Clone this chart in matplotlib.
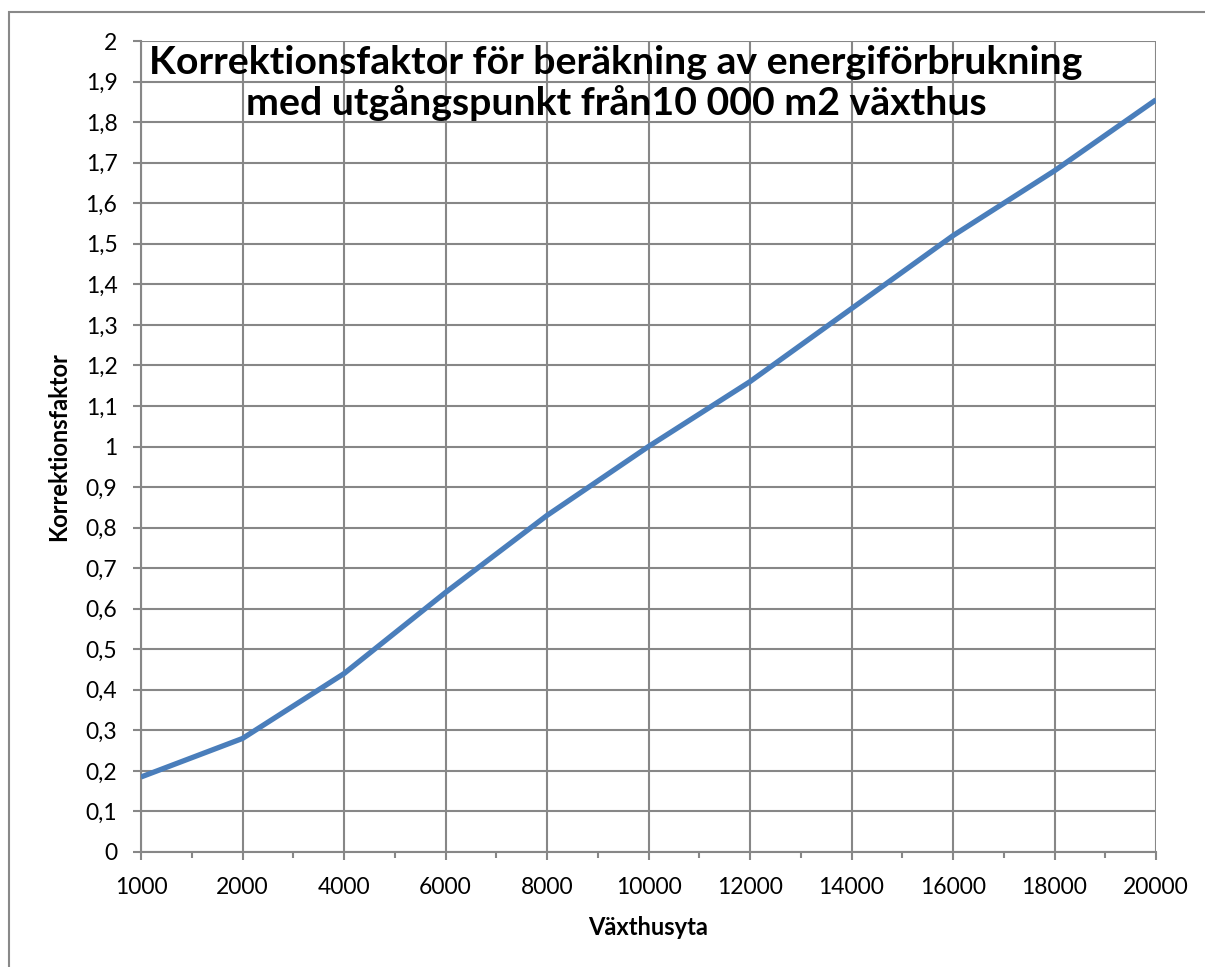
import matplotlib
matplotlib.use("Agg")
import matplotlib.pyplot as plt
from matplotlib.patches import Rectangle
from matplotlib.ticker import FixedLocator, MultipleLocator, FuncFormatter

plt.rcParams['font.family'] = ['Lato', 'DejaVu Sans']

# Greenhouse area categories and correction factor
areas = ["1000", "2000", "4000", "6000", "8000", "10000",
         "12000", "14000", "16000", "18000", "20000"]
factor = [0.185, 0.28, 0.44, 0.64, 0.83, 1.0, 1.16, 1.34, 1.52, 1.68, 1.855]

title = ("Korrektionsfaktor för beräkning av energiförbrukning\n"
         "med utgångspunkt från10 000 m2 växthus")
xlabel = "Växthusyta"
ylabel = "Korrektionsfaktor"

W, H, DPI = 1205, 967, 100
fig = plt.figure(figsize=(W / DPI, H / DPI), dpi=DPI)

# chart-area border
fig.patches.append(Rectangle((9 / W, -0.1), 1.2, 1 - 12 / H + 0.1,
                             transform=fig.transFigure, fill=False,
                             edgecolor="#898989", linewidth=1.5))

left, right, top, bottom = 141, 1156, 41, 852
ax = fig.add_axes([left / W, 1 - bottom / H, (right - left) / W, (bottom - top) / H])

grid_c = "#878787"
x = list(range(len(areas)))
ax.plot(x, factor, color="#4A7EBB", linewidth=3.8, solid_capstyle="butt", zorder=3)

ax.set_xlim(0, len(areas) - 1)
ax.set_ylim(0, 2)
ax.xaxis.set_major_locator(FixedLocator(x))
ax.set_xticklabels(areas)
ax.xaxis.set_minor_locator(MultipleLocator(0.5))
ax.yaxis.set_major_locator(MultipleLocator(0.1))
ax.yaxis.set_major_formatter(FuncFormatter(
    lambda v, p: ("%g" % round(v, 1)).replace(".", ",")))

ax.grid(True, which="major", color=grid_c, linewidth=1.5)
ax.set_axisbelow(True)
for s in ax.spines.values():
    s.set_visible(False)
for side in ("bottom", "left"):
    ax.spines[side].set_visible(True)
    ax.spines[side].set_color(grid_c)
    ax.spines[side].set_linewidth(1.5)

ax.tick_params(axis="both", which="major", direction="out", length=6,
               width=1.5, color=grid_c, labelsize=16.5, labelcolor="black")
ax.tick_params(axis="x", which="minor", direction="out", length=4,
               width=1.5, color=grid_c)
ax.tick_params(axis="x", which="major", pad=12)
ax.tick_params(axis="y", which="major", pad=11)

ax.set_xlabel(xlabel, fontsize=17, fontweight="bold", labelpad=13)
ax.set_ylabel(ylabel, fontsize=17, fontweight="bold", labelpad=11)

fig.text(616 / W, 1 - 83 / H, title, ha="center", va="center",
         fontsize=28.3, fontweight="bold", linespacing=1.15)

fig.savefig("out.png", dpi=DPI, facecolor="white")
